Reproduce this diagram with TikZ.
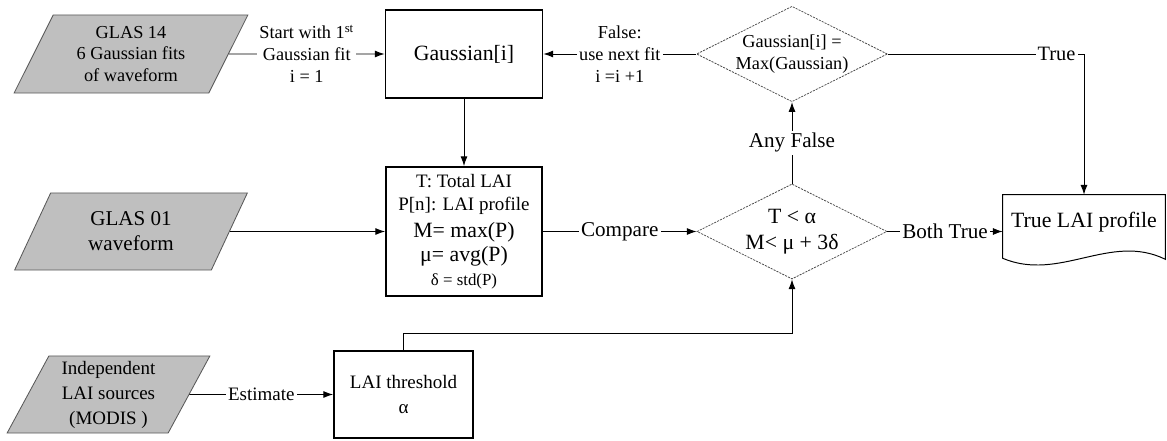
\documentclass[tikz,border=0pt]{standalone}
\usepackage{fontspec}
\setmainfont{Liberation Serif}
\usetikzlibrary{calc,shapes,arrows.meta,positioning}
\tikzset{%
    input_data/.style={%
        trapezium, trapezium left angle=64, trapezium right angle=116, trapezium stretches=true,
        draw=black!65, line width=0.6pt, fill=black!25, align=center, inner sep=0pt,
        font=\fontsize{15}{17.8}\selectfont
    },
    process_box/.style={%
        rectangle, draw=black, line width=1.2pt, align=center, inner sep=2pt,
        font=\fontsize{15.5}{17}\selectfont
    },
    decision_box/.style={%
        diamond, aspect=2, draw=black!75, dash pattern=on 1.5pt off 0.8pt, line width=0.5pt,
        inner sep=0pt, align=center, minimum width=4.75cm, minimum height=2.375cm
    },
    output_doc/.style={%
        rectangle, draw=none, align=center, inner sep=0pt, font=\fontsize{15.5}{18}\selectfont
    },
    flow_arrow/.style={%
        -{Latex[length=7pt,width=5pt]}, line width=0.7pt
    },
    flow_label/.style={%
        fill=white, inner sep=1.5pt, align=center, font=\fontsize{13}{15.5}\selectfont
    },
    big_label/.style={%
        flow_label, font=\fontsize{15}{17}\selectfont
    },
}

\begin{document}
\begin{tikzpicture}[x=0.025cm, y=-0.025cm]
  \useasboundingbox (0,0) rectangle (1167,441);

  % inputs
  \node[input_data, minimum width=5.85cm, minimum height=1.95cm, font=\fontsize{13}{15.5}\selectfont] (glas14) at (131,54) {GLAS 14\\6 Gaussian fits\\of waveform};
  \node[input_data, minimum width=5.85cm, minimum height=1.925cm] (glas01) at (131,231.5) {GLAS 01\\waveform};
  \node[input_data, minimum width=5.075cm, minimum height=1.925cm, font=\fontsize{13.5}{17.8}\selectfont] (modis) at (108.5,394.5) {Independent\\LAI sources\\(MODIS )};

  % processes
  \node[process_box, minimum width=3.925cm, minimum height=2.2cm] (gauss) at (464,54) {Gaussian[i]};
  \node[process_box, minimum width=3.9cm, minimum height=3.225cm] (stats) at (464,231.5) {{\fontsize{13.5}{15}\selectfont T: Total LAI}\\{\fontsize{13.5}{15}\selectfont P[n]: LAI profile}\\[2pt]M= max(P)\\μ= avg(P)\\{\fontsize{12}{14}\selectfont δ = std(P)}};
  \node[process_box, minimum width=3.475cm, minimum height=2.175cm, font=\fontsize{13.5}{18}\selectfont] (threshold) at (403.5,394.5) {LAI threshold\\α};

  % decisions
  \node[decision_box, font=\fontsize{13}{16}\selectfont] (maxtest) at (792,54) {Gaussian[i] =\\Max(Gaussian)};
  \node[decision_box, font=\fontsize{15.5}{18.5}\selectfont] (laitest) at (792,231.5) {T < α\\M< μ + 3δ};

  % output
  \node[output_doc, minimum width=4.05cm, minimum height=1.35cm] (result) at (1084,222) {True LAI profile};
  \draw[line width=0.7pt] (result.north west) -- (result.north east) -- ($(result.south east)+(0,10)$)
    .. controls +(-55,-27) and +(57,24) .. ($(result.south west)+(0,9)$) -- cycle;

  % connectors
  \draw[flow_arrow] (glas14) -- node[flow_label] {Start with 1\textsuperscript{st}\\Gaussian fit\\i = 1} (gauss);
  \draw[flow_arrow] (maxtest) -- node[flow_label] {False:\\use next fit\\i =i +1} (gauss);
  \draw[flow_arrow] (gauss) -- (stats);
  \draw[flow_arrow] (glas01) -- (stats);
  \draw[flow_arrow] (stats) -- node[big_label] {Compare} (laitest);
  \draw[flow_arrow] (laitest) -- node[big_label] {Any False} (maxtest);
  \draw[flow_arrow] (maxtest) -| node[big_label, pos=0.43, font=\fontsize{14.5}{17}\selectfont] {True} (result.north);
  \draw[flow_arrow] (laitest.east) -- node[big_label] {Both True} (laitest.east -| result.west);
  \draw[flow_arrow] (modis) -- node[big_label, font=\fontsize{13.5}{16}\selectfont] {Estimate} (threshold);
  \coordinate (bend) at ($(threshold.north)+(0,-17)$);
  \draw[flow_arrow] (threshold.north) -- (bend) -| (laitest.south);

\end{tikzpicture}
\end{document}
